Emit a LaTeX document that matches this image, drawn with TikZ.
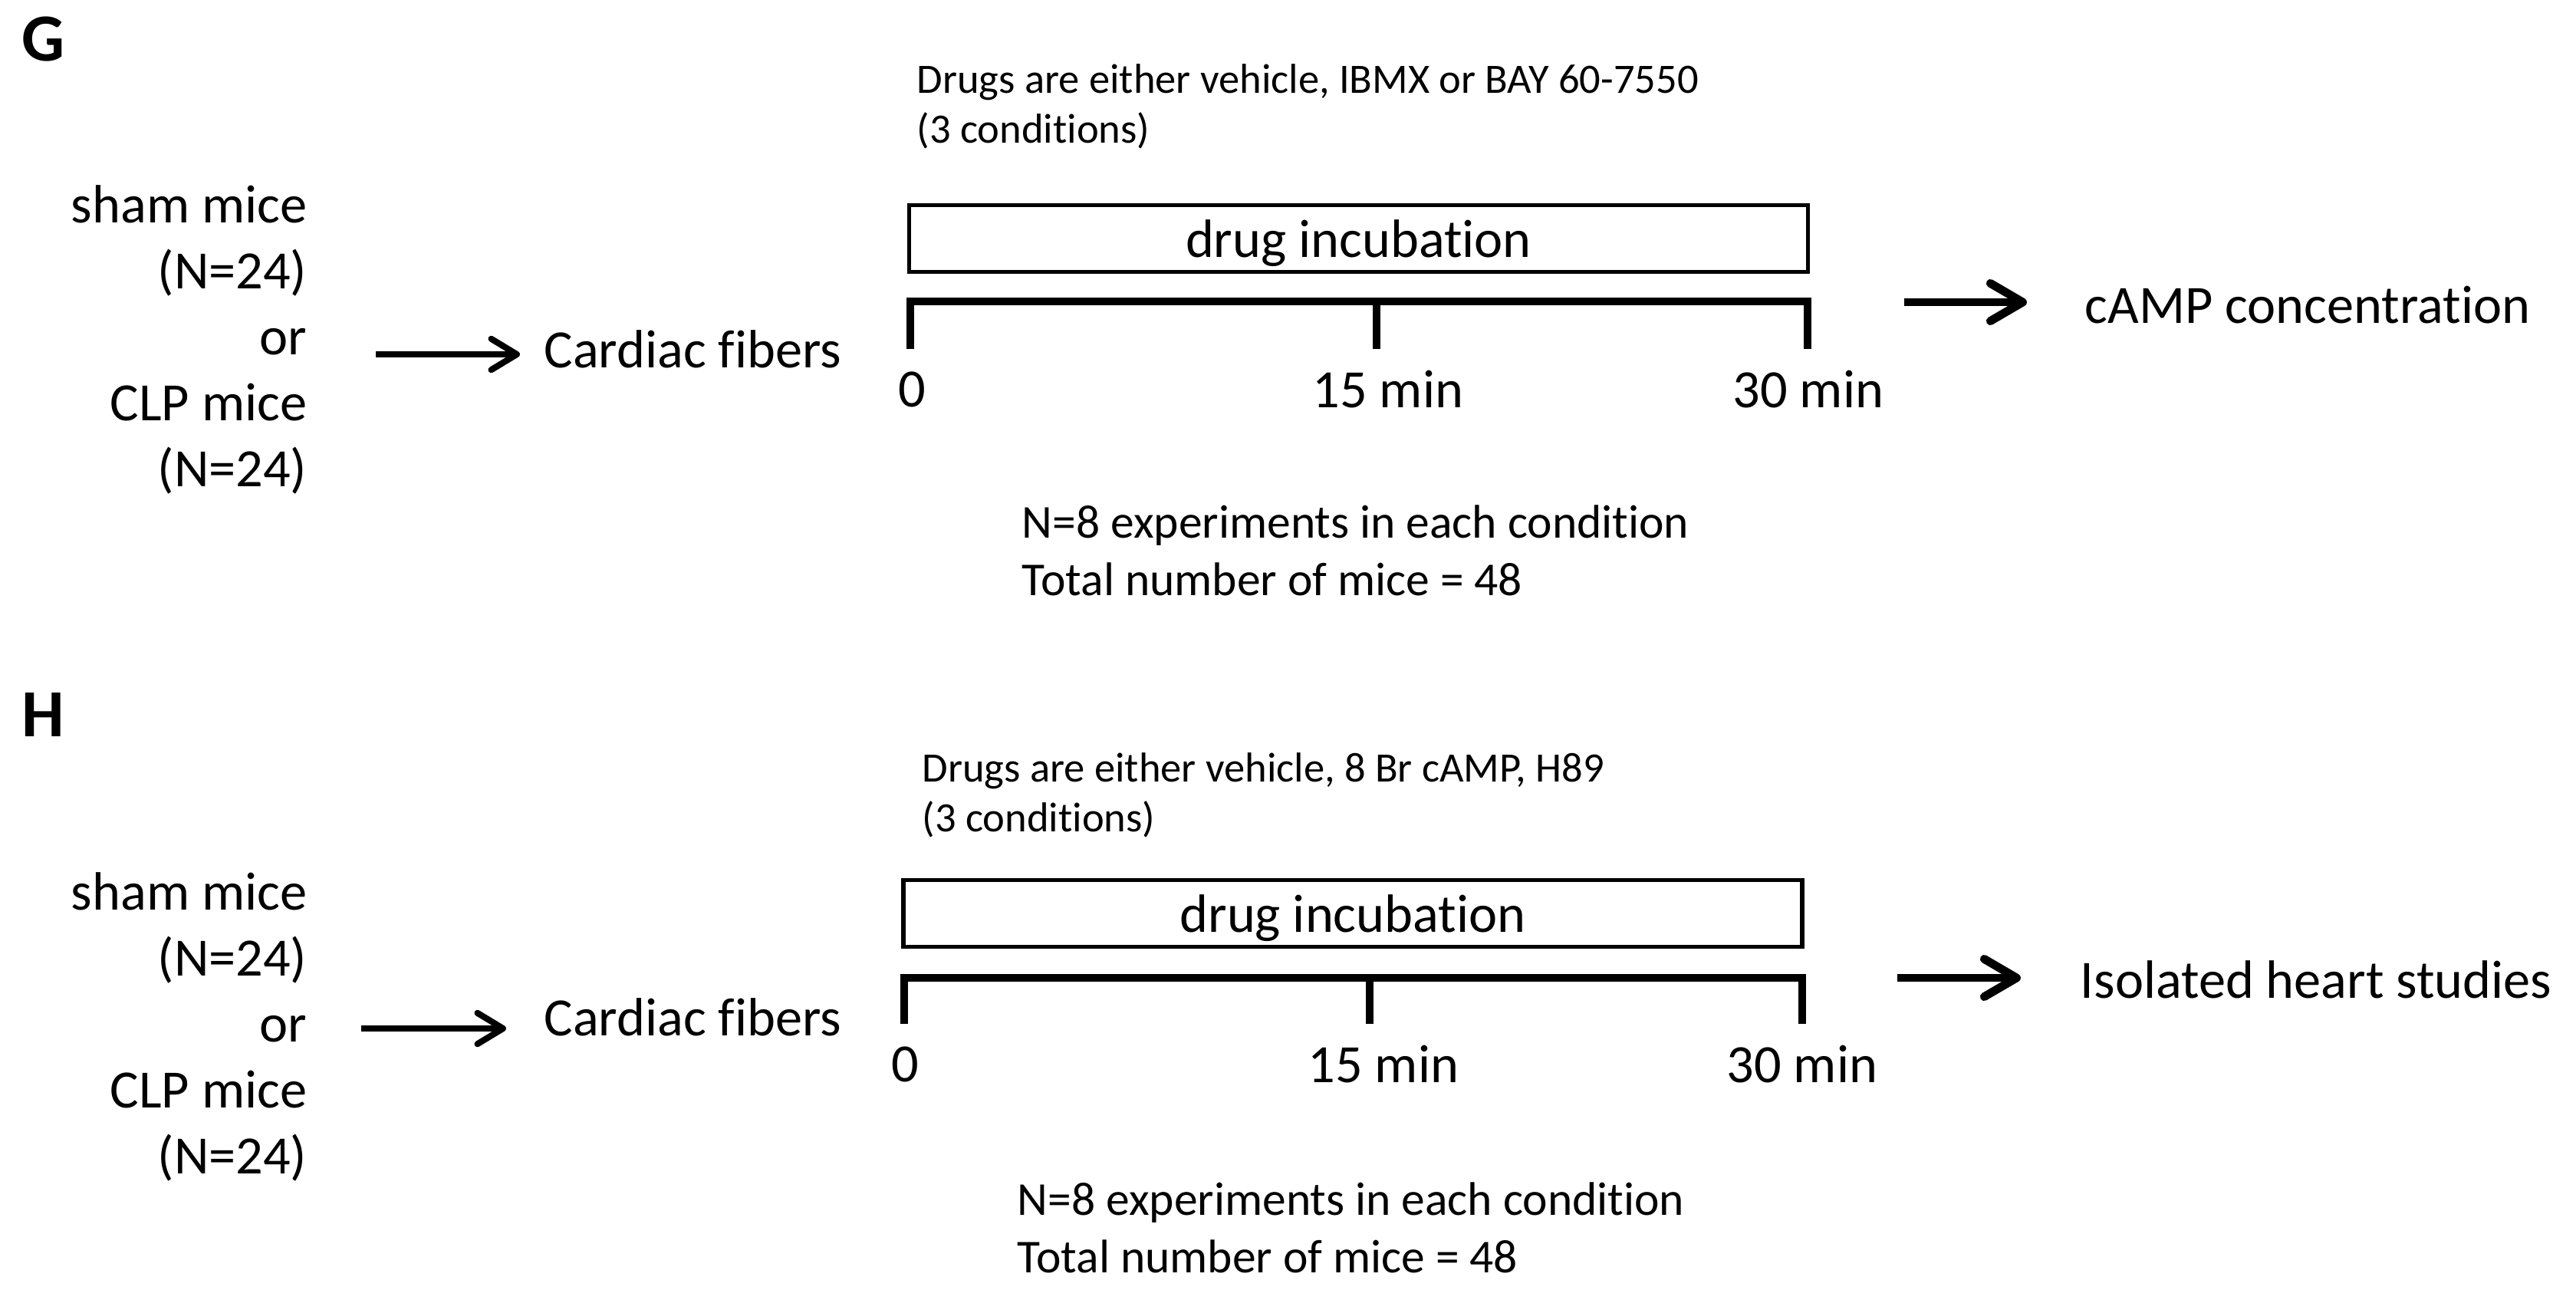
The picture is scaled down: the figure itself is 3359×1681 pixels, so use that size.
\documentclass[tikz,border=0pt]{standalone}
\usepackage{fontspec}
\setmainfont{Carlito}[Ligatures=NoCommon]
\usetikzlibrary{arrows.meta}

\tikzset{
  every picture/.style={line width=1.6pt},
  lbl/.style={font=\fontsize{20}{24.5}\selectfont, inner sep=0pt},
  note/.style={font=\fontsize{15.5}{18.3}\selectfont, align=left, inner sep=0pt},
  count/.style={font=\fontsize{17.5}{21.3}\selectfont, align=left, inner sep=0pt},
  panel/.style={font=\fontsize{25}{30}\selectfont\bfseries, inner sep=0pt},
  incbox/.style={draw, line width=1.6pt, minimum width=11.71cm, minimum height=0.87cm,
    font=\fontsize{20}{24}\selectfont, inner sep=0pt, text depth=0pt},
  bar/.style={line width=3.1pt, line join=miter},
  thinarr/.style={line width=2.3pt, -{Straight Barb[round,length=9.5pt,width=11.5pt]}},
  thickarr/.style={line width=3.1pt, -{Straight Barb[round,length=12pt,width=14pt]}},
}

\begin{document}
\begin{tikzpicture}[x=0.01cm, y=-0.01cm]
    \useasboundingbox (0,0) rectangle (3359,1681);

    % panel G
    \node[panel] (G) at (57,51) {G};
    \node[note, anchor=west] (gdrugs) at (1193,139) {Drugs are either vehicle, IBMX or BAY 60-7550\\(3 conditions)};
    \node[incbox] (gbox) at (1771.5,311) {drug incubation};
    \draw[bar] (1187,455) -- (1187,393) -- (2357,393) -- (2357,455);
    \draw[bar] (1795,393) -- (1795,455);
    \node[lbl] (g0) at (1189,508) {0};
    \node[lbl] (g15) at (1810,508) {15 min};
    \node[lbl] (g30) at (2358,508) {30 min};
    \node[lbl, align=right, anchor=east] (gmice) at (403,443) {sham mice\\(N=24)\\or\\CLP mice\\(N=24)};
    \node[lbl, anchor=west] (gcf) at (707,455) {Cardiac fibers};
    \coordinate (gin) at (490,462);
    \draw[thinarr, shorten >=0.29cm] (gin) -- (gin -| gcf.west);
    \node[lbl, anchor=west] (gres) at (2716,398) {cAMP concentration};
    \coordinate (gout) at (2483,394);
    \draw[thickarr, shorten >=0.73cm] (gout) -- (gout -| gres.west);
    \node[count, anchor=west] (gn) at (1330,718) {N=8 experiments in each condition\\Total number of mice = 48};

    % panel H
    \node[panel] (H) at (56,932) {H};
    \node[note, anchor=west] (hdrugs) at (1200,1037) {Drugs are either vehicle, 8 Br cAMP, H89\\(3 conditions)};
    \node[incbox] (hbox) at (1764,1191) {drug incubation};
    \draw[bar] (1179,1335) -- (1179,1275) -- (2350,1275) -- (2350,1335);
    \draw[bar] (1786,1275) -- (1786,1335);
    \node[lbl] (h0) at (1180,1388) {0};
    \node[lbl] (h15) at (1804,1388) {15 min};
    \node[lbl] (h30) at (2350,1388) {30 min};
    \node[lbl, align=right, anchor=east] (hmice) at (403,1339) {sham mice\\(N=24)\\or\\CLP mice\\(N=24)};
    \node[lbl, anchor=west] (hcf) at (707,1326) {Cardiac fibers};
    \coordinate (hin) at (471,1341);
    \draw[thinarr, shorten >=0.47cm] (hin) -- (hin -| hcf.west);
    \node[lbl, anchor=west] (hres) at (2710,1277) {Isolated heart studies};
    \coordinate (hout) at (2474,1275);
    \draw[thickarr, shorten >=0.75cm] (hout) -- (hout -| hres.west);
    \node[count, anchor=west] (hn) at (1324,1601) {N=8 experiments in each condition\\Total number of mice = 48};
\end{tikzpicture}
\end{document}
